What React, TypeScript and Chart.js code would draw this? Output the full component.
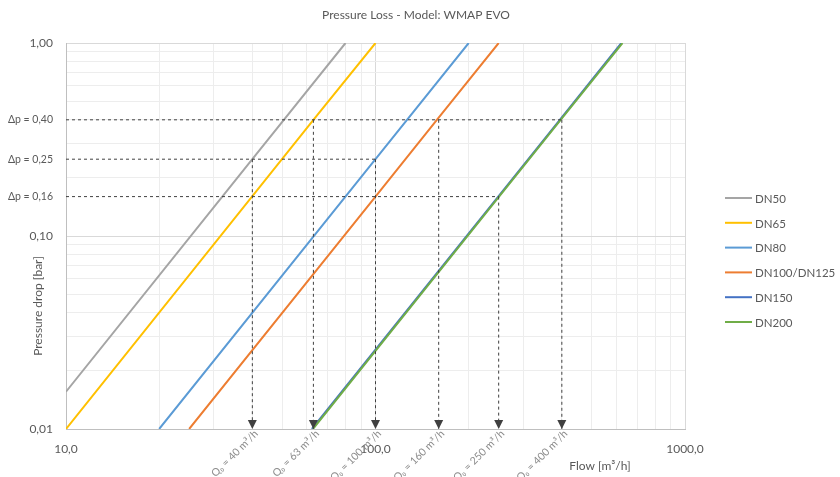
import React, { useEffect, useRef } from "react";
import { Chart, registerables } from "chart.js";

Chart.register(...registerables);

// ---- data ----
const seriesNames = ["DN50", "DN65", "DN80", "DN100/DN125", "DN150", "DN200"];
const seriesColors = ["#a5a5a5", "#ffc000", "#5b9bd5", "#ed7d31", "#4472c4", "#70ad47"];
const dn50 = [[10, 0.0156], [40, 0.25], [80, 1.0]];
const dn65 = [[10, 0.01], [63, 0.4], [100, 1.0]];
const dn80 = [[20, 0.01], [100, 0.25], [200, 1.0]];
const dn100 = [[25, 0.01], [100, 0.16], [160, 0.41], [250, 1.0]];
const dn150 = [[62.3, 0.01], [250, 0.161], [400, 0.412], [623, 1.0]];
const dn200 = [[62.8, 0.01], [250, 0.159], [400, 0.407], [628, 1.0]];
const seriesData = [dn50, dn65, dn80, dn100, dn150, dn200];

const markerFlows = [40, 63, 100, 160, 250, 400];
const markerDrops = [0.25, 0.4, 0.25, 0.4, 0.16, 0.4];
const markerLabels = ["Q₀ = 40 m³/h", "Q₀ = 63 m³/h", "Q₀ = 100 m³/h", "Q₀ = 160 m³/h", "Q₀ = 250 m³/h", "Q₀ = 400 m³/h"];
const dropLevels = [0.4, 0.25, 0.16];
const dropLevelFlows = [400, 100, 250];

const xTicks = [10, 20, 30, 40, 50, 60, 70, 80, 90, 100, 200, 300, 400, 500, 600, 700, 800, 900, 1000];
const xTickLabels: Record<number, string> = { 10: "10,0", 100: "100,0", 1000: "1000,0" };
const yTicks = [0.01, 0.02, 0.03, 0.04, 0.05, 0.06, 0.07, 0.08, 0.09, 0.1, 0.16, 0.2, 0.25, 0.3, 0.4, 0.5, 0.6, 0.7, 0.8, 0.9, 1.0];
const yTickLabels: Record<string, string> = {
  "0.01": "0,01",
  "0.1": "0,10",
  "1": "1,00",
  "0.16": "Δp = 0,16",
  "0.25": "Δp = 0,25",
  "0.4": "Δp = 0,40",
};

const titleText = "Pressure Loss - Model: WMAP EVO";
const yTitle = "Pressure drop [bar]";
const xTitle = "Flow [m³/h]";

const FONT = "Lato, 'Open Sans', 'DejaVu Sans', sans-serif";
const TXT = "#595959";
const DASH = "#404040";

const overlayPlugin = {
  id: "overlay",
  afterDatasetsDraw(chart: any) {
    const ctx = chart.ctx as CanvasRenderingContext2D;
    const xs = chart.scales.x;
    const bottom = chart.chartArea.bottom;
    ctx.save();
    // arrow heads
    ctx.fillStyle = DASH;
    markerFlows.forEach((q) => {
      const x = xs.getPixelForValue(q);
      ctx.beginPath();
      ctx.moveTo(x, bottom);
      ctx.lineTo(x - 4.5, bottom - 9);
      ctx.lineTo(x + 4.5, bottom - 9);
      ctx.closePath();
      ctx.fill();
    });
    // rotated labels
    ctx.fillStyle = "#8c8c8c";
    ctx.font = "10.5px " + FONT;
    ctx.textAlign = "right";
    ctx.textBaseline = "middle";
    markerFlows.forEach((q, i) => {
      const x = xs.getPixelForValue(q);
      ctx.save();
      ctx.translate(x + 4, bottom + 3);
      ctx.rotate(-Math.PI / 4);
      ctx.fillText(markerLabels[i], 0, 0);
      ctx.restore();
    });
    // titles
    ctx.fillStyle = TXT;
    ctx.textAlign = "center";
    ctx.font = "12px " + FONT;
    ctx.fillText(titleText, 416, 15);
    ctx.fillText(xTitle, 600, 466);
    ctx.save();
    ctx.translate(38, 306);
    ctx.rotate(-Math.PI / 2);
    ctx.fillText(yTitle, 0, 0);
    ctx.restore();
    // legend
    ctx.textAlign = "left";
    ctx.font = "11.5px " + FONT;
    seriesNames.forEach((name, i) => {
      const y = 198 + i * 24.8;
      ctx.strokeStyle = seriesColors[i];
      ctx.lineWidth = 2;
      ctx.beginPath();
      ctx.moveTo(725, y);
      ctx.lineTo(752, y);
      ctx.stroke();
      ctx.fillStyle = TXT;
      ctx.fillText(name, 755, y + 1);
    });
    ctx.restore();
  },
};

export default function App() {
  const ref = useRef<HTMLCanvasElement>(null);
  useEffect(() => {
    if (!ref.current) return;
    const datasets: any[] = [];
    seriesData.forEach((pts, i) => {
      datasets.push({
        label: seriesNames[i],
        data: pts.map(([x, y]) => ({ x, y })),
        borderColor: seriesColors[i],
        backgroundColor: seriesColors[i],
        borderWidth: 2,
        pointRadius: 0,
        showLine: true,
        order: i === 5 ? 1 : i === 4 ? 2 : 3,
      });
    });
    markerFlows.forEach((q, i) => {
      datasets.push({
        label: "v" + i,
        data: [{ x: q, y: markerDrops[i] }, { x: q, y: 0.01 }],
        borderColor: DASH,
        borderWidth: 1,
        borderDash: [3, 3],
        pointRadius: 0,
        showLine: true,
        order: 0,
      });
    });
    dropLevels.forEach((d, i) => {
      datasets.push({
        label: "h" + i,
        data: [{ x: 10, y: d }, { x: dropLevelFlows[i], y: d }],
        borderColor: DASH,
        borderWidth: 1,
        borderDash: [3, 3],
        pointRadius: 0,
        showLine: true,
        order: 0,
      });
    });
    const chart = new Chart(ref.current, {
      type: "scatter",
      data: { datasets },
      options: {
        animation: false,
        responsive: false,
        layout: { padding: { left: 0, right: 155, top: 43, bottom: 0 } },
        plugins: { legend: { display: false }, title: { display: false }, tooltip: { enabled: false } },
        scales: {
          x: {
            type: "logarithmic",
            min: 10,
            max: 1000,
            afterBuildTicks: (s: any) => {
              s.ticks = xTicks.map((v) => ({ value: v }));
            },
            afterFit: (s: any) => {
              s.height = 48;
            },
            ticks: {
              autoSkip: false,
              maxRotation: 0,
              padding: 13,
              color: TXT,
              font: { family: FONT, size: 12 },
              callback: (v: any) => xTickLabels[v] ?? "",
            },
            grid: {
              drawTicks: false,
              color: (c: any) => {
                const v = c.tick?.value;
                return v === 100 || v === 1000 ? "#d9d9d9" : "#ededed";
              },
            },
            border: { color: "#bfbfbf" },
          },
          y: {
            type: "logarithmic",
            min: 0.01,
            max: 1,
            afterBuildTicks: (s: any) => {
              s.ticks = yTicks.map((v) => ({ value: v }));
            },
            afterFit: (s: any) => {
              s.width = 66;
            },
            ticks: {
              autoSkip: false,
              padding: 13,
              color: TXT,
              font: (c: any) => {
                const v = c.tick?.value;
                const dp = v === 0.16 || v === 0.25 || v === 0.4;
                return { family: FONT, size: dp ? 10.5 : 12 };
              },
              callback: (v: any) => yTickLabels[String(v)] ?? "",
            },
            grid: {
              drawTicks: false,
              color: (c: any) => {
                const v = c.tick?.value;
                if (v === 0.16 || v === 0.25) return "rgba(0,0,0,0)";
                return v === 0.1 || v === 1 ? "#d9d9d9" : "#ededed";
              },
            },
            border: { color: "#bfbfbf" },
          },
        },
      },
      plugins: [overlayPlugin],
    });
    return () => chart.destroy();
  }, []);
  return (
    <div style={{ position: "fixed", left: 0, top: 0, width: 840, height: 477, background: "#fff" }}>
      <canvas ref={ref} width={840} height={477} style={{ display: "block" }} />
    </div>
  );
}
